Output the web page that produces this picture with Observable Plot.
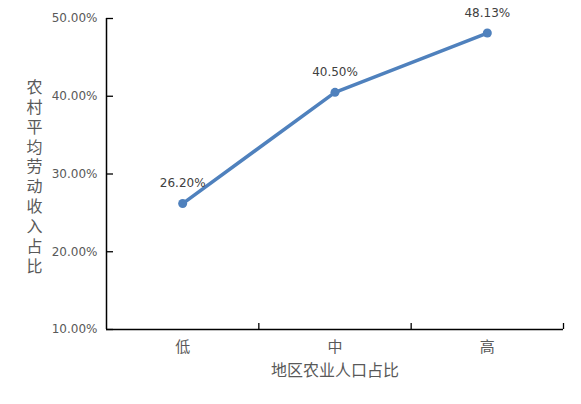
<!DOCTYPE html>
<html>
<head>
<meta charset="utf-8">
<script src="https://cdn.jsdelivr.net/npm/d3@7"></script>
<script src="https://cdn.jsdelivr.net/npm/@observablehq/plot@0.6"></script>
<style>
  html, body { margin: 0; padding: 0; background: #ffffff; }
</style>
</head>
<body>
<div id="chart"></div>
<script>
const categories = ["低", "中", "高"];
const values = [26.20, 40.50, 48.13];
const valueLabels = ["26.20%", "40.50%", "48.13%"];
const yTicks = [10, 20, 30, 40, 50];
const xTitle = "地区农业人口占比";
const yTitle = "农村平均劳动收入占比";

const W = 581, H = 404;
const mL = 106, mR = 18, mT = 18, mB = 75;
const innerW = W - mL - mR, innerH = H - mT - mB;

const data = categories.map((c, i) => ({i, c, v: values[i], label: valueLabels[i]}));
const idx = categories.map((c, i) => i);
const bounds = categories.map((c, i) => i + 0.5);
const lineColor = "#4f81bd";
const fonts = "'DejaVu Sans', 'Noto Sans CJK SC', sans-serif";

const chart = Plot.plot({
  width: W, height: H,
  marginLeft: mL, marginRight: mR, marginTop: mT, marginBottom: mB,
  style: {fontFamily: fonts, background: "#ffffff", overflow: "visible"},
  x: {domain: [-0.5, categories.length - 0.5], axis: null},
  y: {domain: [yTicks[0], yTicks[yTicks.length - 1]], axis: null},
  marks: [
    Plot.axisY(yTicks, {tickSize: 0, tickPadding: 9, tickFormat: d => d.toFixed(2) + "%", fill: "#595959", fontSize: 12, label: null}),
    Plot.tickY(yTicks, {y: d => d, insetRight: innerW - 7, stroke: "#000", strokeWidth: 1.3}),
    Plot.tickX(bounds, {x: d => d, insetTop: innerH - 6, stroke: "#000", strokeWidth: 1.3}),
    Plot.ruleX([-0.5], {stroke: "#000", strokeWidth: 1.5}),
    Plot.ruleY([yTicks[0]], {stroke: "#000", strokeWidth: 1.5}),
    Plot.text(idx, {x: d => d, frameAnchor: "bottom", dy: 22, text: d => categories[d], fontSize: 15, fill: "#595959"}),
    Plot.text([xTitle], {frameAnchor: "bottom", dy: 46, fontSize: 16, fill: "#595959"}),
    Plot.text([yTitle.split("").join("\n")], {frameAnchor: "left", textAnchor: "middle", dx: -72, dy: 2, fontSize: 16, lineHeight: 1.24, fill: "#595959"}),
    Plot.line(data, {x: "i", y: "v", stroke: lineColor, strokeWidth: 3.5}),
    Plot.dot(data, {x: "i", y: "v", r: 4.5, fill: lineColor}),
    Plot.text(data, {x: "i", y: "v", text: "label", dy: -20, fontSize: 12, fill: "#404040"})
  ]
});
document.getElementById("chart").appendChild(chart);
</script>
</body>
</html>
